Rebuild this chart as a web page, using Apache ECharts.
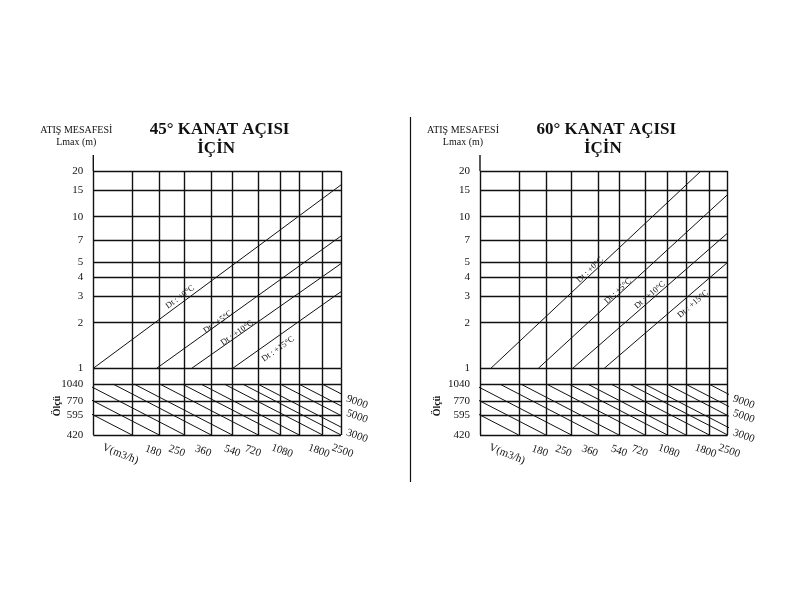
<!DOCTYPE html>
<html lang="tr">
<head>
<meta charset="utf-8" />
<title>Kanat açısı - atış mesafesi</title>
<script src="https://cdn.jsdelivr.net/npm/echarts@6/dist/echarts.min.js"></script>
<style>
html, body { margin: 0; padding: 0; background: #fff; }
#main { width: 800px; height: 600px; }
</style>
</head>
<body>
<div id="main"></div>
<script>
// dikey ızgara çizgileri (V, m3/h)
var vGrid = [80, 137.5, 200, 285, 412, 552, 792, 1081, 1400, 1938, 2500];
// Lmax (m) ızgara değerleri
var lTicks = [1, 2, 3, 4, 5, 7, 10, 15, 20];
// ölçü satırları
var sizeTicks = [420, 595, 770, 1040];
var vLabels = [180, 250, 360, 540, 720, 1080, 1800, 2500];
var qLabels = [9000, 5000, 3000];
var qRows = [770, 595, 420];
var dtNames = ['Dt : +0°C', 'Dt : +5°C', 'Dt : +10°C', 'Dt : +15°C'];

// 45° : [V, Lmax] başlangıç / bitiş
var lines45 = [
  [[80, 1], [2500, 16.2]],
  [[193, 1], [2500, 7.45]],
  [[314, 1], [2500, 4.9]],
  [[555, 1], [2500, 3.2]]
];
var dtPos45 = [[267, 2.95], [452, 2.02], [590, 1.71], [1042, 1.34]];

// 60°
var lines60 = [
  [[93, 1], [1725, 20]],
  [[180, 1], [2500, 14]],
  [[290, 1], [2500, 7.8]],
  [[450, 1], [2500, 5.0]]
];
var dtPos60 = [[369, 4.45], [544, 3.23], [848, 3.04], [1544, 2.65]];

// ölçü bölümü eğik çizgiler: [V (1040'ta), V (420'de)]
var sizeLines = [
  [35, 137], [51, 200], [73, 285], [106, 412], [142, 552], [203, 792], [277, 1081],
  [359, 1400], [497, 1938], [641, 2500], [792, 3090], [1081, 4216], [1400, 5460], [1938, 7560]
];

// yerleşim
var TOP = 171, MID = 368.3, ROW_TOP = 384.3, BOT = 435, W = 247.7;
var FONT = '"Liberation Serif", "DejaVu Serif", serif';
var INK = '#111';
var sizeMax = 420 * Math.pow(1040 / 420, (BOT - MID) / (BOT - ROW_TOP));

var panels = [
  { left: 93.3, title: '45° KANAT AÇISI', lines: lines45, dtPos: dtPos45, olcu: 36 },
  { left: 480, title: '60° KANAT AÇISI', lines: lines60, dtPos: dtPos60, olcu: 43 }
];

function gridMarkLine(rows, cols) {
  var d = rows.map(function (r) {
    return {
      yAxis: r,
      label: { show: true, position: 'start', distance: 10, formatter: String(r),
        color: '#111', fontFamily: FONT, fontSize: 11 }
    };
  });
  cols.forEach(function (c) { d.push({ xAxis: c, label: { show: false } }); });
  return {
    silent: true, symbol: 'none', animation: false,
    lineStyle: { type: 'solid', color: INK, width: 1.4 },
    emphasis: { disabled: true },
    data: d
  };
}

var grids = [], xAxes = [], yAxes = [], series = [];
panels.forEach(function (p, i) {
  var tg = i * 2, bg = i * 2 + 1;
  grids.push({ left: p.left, top: TOP, width: W, height: MID - TOP });
  grids.push({ left: p.left, top: MID, width: W, height: BOT - MID });
  xAxes.push({ type: 'log', gridIndex: tg, min: 80, max: 2500, show: false });
  xAxes.push({ type: 'log', gridIndex: bg, min: 80, max: 2500, show: false });
  yAxes.push({ type: 'log', gridIndex: tg, min: 1, max: 20, show: false });
  yAxes.push({ type: 'log', gridIndex: bg, min: 420, max: sizeMax, show: false });

  p.lines.forEach(function (ln, j) {
    var s = {
      type: 'line', xAxisIndex: tg, yAxisIndex: tg, data: ln,
      symbol: 'none', silent: true, clip: true,
      lineStyle: { color: INK, width: 1 }
    };
    if (j === 0) s.markLine = gridMarkLine(lTicks, vGrid);
    series.push(s);
  });

  sizeLines.forEach(function (sl, j) {
    var s = {
      type: 'line', xAxisIndex: bg, yAxisIndex: bg,
      data: [[sl[0], 1040], [sl[1], 420]],
      symbol: 'none', silent: true, clip: true,
      lineStyle: { color: INK, width: 1 }
    };
    if (j === 0) s.markLine = gridMarkLine(sizeTicks, vGrid);
    series.push(s);
  });
});

var chart = echarts.init(document.getElementById('main'));
chart.setOption({
  animation: false,
  backgroundColor: '#fff',
  grid: grids,
  xAxis: xAxes,
  yAxis: yAxes,
  series: series
});

function txt(x, y, s, font, rot) {
  return {
    type: 'text', x: x, y: y, rotation: rot || 0, silent: true,
    style: { text: s, font: font, fill: '#111',
      textAlign: 'center', textVerticalAlign: 'middle',
      align: 'center', verticalAlign: 'middle' }
  };
}
function seg(x1, y1, x2, y2, w) {
  return { type: 'line', silent: true, shape: { x1: x1, y1: y1, x2: x2, y2: y2 },
    style: { stroke: INK, lineWidth: w } };
}

var deg = Math.PI / 180;
var g = [];
panels.forEach(function (p, i) {
  var tg = i * 2, bg = i * 2 + 1;
  var L = p.left, R = p.left + W, C = p.left + W / 2;

  g.push(txt(L - 17, 130, 'ATIŞ MESAFESİ', '10px ' + FONT));
  g.push(txt(L - 17, 142, 'Lmax (m)', '10px ' + FONT));
  g.push(txt(C + 2.5, 130, p.title, 'bold 17px ' + FONT));
  g.push(txt(C - 1, 149, 'İÇİN', 'bold 17px ' + FONT));
  g.push(seg(L, TOP - 16, L, TOP, 1.4));
  g.push(txt(L - p.olcu, 406, 'Ölçü', 'bold 10px ' + FONT, Math.PI / 2));
  g.push(txt(L + 27, 454, 'V(m3/h)', '11px ' + FONT, -22 * deg));

  vLabels.forEach(function (v) {
    var pt = chart.convertToPixel({ gridIndex: bg }, [v, 420]);
    g.push(txt(pt[0] + 1.5, pt[1] + 16, String(v), '11px ' + FONT, -20 * deg));
  });
  qLabels.forEach(function (q, k) {
    var pt = chart.convertToPixel({ gridIndex: bg }, [2500, qRows[k]]);
    g.push(txt(R + 16, pt[1] + 1, String(q), '11px ' + FONT, -20 * deg));
  });
  p.lines.forEach(function (ln, k) {
    var a = chart.convertToPixel({ gridIndex: tg }, ln[0]);
    var b = chart.convertToPixel({ gridIndex: tg }, ln[1]);
    var rot = Math.atan2(a[1] - b[1], b[0] - a[0]);
    var c = chart.convertToPixel({ gridIndex: tg }, p.dtPos[k]);
    g.push(txt(c[0], c[1], dtNames[k], '8.5px ' + FONT, rot));
  });
});
g.push(seg(410.5, 117, 410.5, 482, 1.2));

chart.setOption({ graphic: g });
</script>
</body>
</html>
